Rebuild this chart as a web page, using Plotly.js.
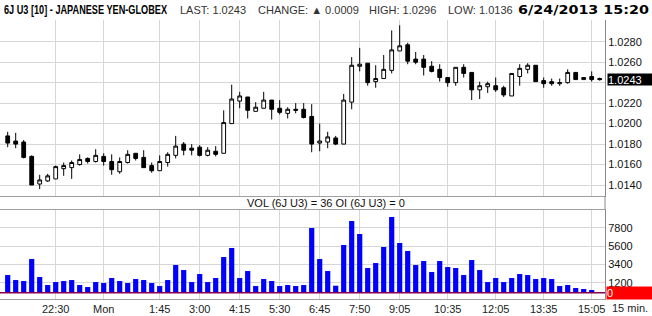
<!DOCTYPE html>
<html>
<head>
<meta charset="utf-8">
<script src="https://cdn.plot.ly/plotly-3.0.1.min.js"></script>
<style>html,body{margin:0;padding:0;background:#fff;}#chart{width:652px;height:316px;}</style>
</head>
<body>
<div id="chart"></div>
<script>
// 15-minute bars, index 0..74 (Sun 21:00 .. Mon 15:20)
const barIndex = Array.from({length: 75}, (_, i) => i);
const openP  = [1.0188,1.0183,1.0182,1.0168,1.0141,1.0144,1.0146,1.0156,1.0157,1.0160,
                1.0166,1.0163,1.0168,1.0163,1.0153,1.0162,1.0171,1.0167,1.0159,1.0154,
                1.0162,1.0169,1.0180,1.0176,1.0177,1.0169,1.0173,1.0171,1.0200,1.0222,
                1.0226,1.0212,1.0215,1.0223,1.0215,1.0210,1.0214,1.0214,1.0207,1.0181,
                1.0182,1.0186,1.0180,1.0221,1.0256,1.0259,1.0241,1.0244,1.0252,1.0271,
                1.0277,1.0263,1.0263,1.0256,1.0253,1.0245,1.0240,1.0255,1.0250,1.0233,
                1.0236,1.0237,1.0235,1.0227,1.0246,1.0253,1.0257,1.0242,1.0241,1.0239,
                1.0240,1.0250,1.0243,1.0246,1.0244];
const highP  = [1.0192,1.0191,1.0184,1.0169,1.0150,1.0151,1.0159,1.0162,1.0164,1.0170,
                1.0167,1.0175,1.0171,1.0170,1.0167,1.0174,1.0171,1.0174,1.0162,1.0169,
                1.0172,1.0188,1.0182,1.0180,1.0179,1.0177,1.0178,1.0213,1.0238,1.0231,
                1.0226,1.0221,1.0231,1.0223,1.0223,1.0216,1.0220,1.0220,1.0219,1.0200,
                1.0192,1.0188,1.0229,1.0265,1.0274,1.0259,1.0257,1.0267,1.0291,1.0296,
                1.0279,1.0270,1.0267,1.0261,1.0258,1.0245,1.0255,1.0258,1.0250,1.0241,
                1.0241,1.0245,1.0237,1.0249,1.0258,1.0259,1.0257,1.0245,1.0244,1.0244,
                1.0253,1.0250,1.0245,1.0251,1.0245];
const lowP   = [1.0177,1.0176,1.0166,1.0140,1.0136,1.0143,1.0146,1.0149,1.0146,1.0159,
                1.0161,1.0162,1.0159,1.0150,1.0151,1.0161,1.0164,1.0157,1.0152,1.0154,
                1.0158,1.0166,1.0169,1.0169,1.0168,1.0168,1.0168,1.0171,1.0200,1.0215,
                1.0205,1.0212,1.0215,1.0204,1.0209,1.0205,1.0210,1.0205,1.0172,1.0173,
                1.0176,1.0179,1.0180,1.0214,1.0251,1.0237,1.0235,1.0244,1.0249,1.0271,
                1.0258,1.0258,1.0247,1.0250,1.0241,1.0236,1.0237,1.0245,1.0223,1.0224,
                1.0230,1.0231,1.0226,1.0227,1.0237,1.0249,1.0241,1.0235,1.0237,1.0237,
                1.0239,1.0243,1.0243,1.0241,1.0242];
const closeP = [1.0181,1.0180,1.0167,1.0140,1.0145,1.0149,1.0158,1.0159,1.0162,1.0165,
                1.0163,1.0169,1.0163,1.0155,1.0163,1.0170,1.0166,1.0157,1.0154,1.0163,
                1.0170,1.0178,1.0174,1.0174,1.0169,1.0174,1.0170,1.0201,1.0224,1.0227,
                1.0213,1.0216,1.0223,1.0214,1.0211,1.0214,1.0213,1.0206,1.0180,1.0183,
                1.0187,1.0180,1.0223,1.0257,1.0258,1.0240,1.0244,1.0253,1.0272,1.0276,
                1.0261,1.0260,1.0255,1.0251,1.0245,1.0240,1.0255,1.0249,1.0233,1.0237,
                1.0239,1.0233,1.0228,1.0249,1.0254,1.0257,1.0241,1.0239,1.0239,1.0240,
                1.0250,1.0243,1.0245,1.0243,1.0243];
const volume = [2120,1520,1400,4040,1880,920,1280,1400,1520,920,
                680,1280,1160,1760,1400,1160,1640,1520,1160,800,
                1520,3320,2720,1280,2240,1280,1760,4280,5360,1760,
                2600,800,1640,1400,800,920,800,920,7760,4040,
                2600,840,5720,8600,7040,2960,3560,5480,9080,5960,
                5000,3320,3800,2480,3800,3080,2960,2120,3920,2720,
                1280,1760,1280,1760,2240,2120,1640,1760,1640,800,
                920,560,440,320,36];
const timeTickIdx = [6,12,19,24,29,34,39,44,49,55,61,67,73];
const timeTickLbl = ['22:30','Mon','1:45','3:00','4:15','5:30','6:45','7:50','9:05','10:35','12:05','13:35','15:05'];
const priceTicks = [1.0140,1.0160,1.0180,1.0200,1.0220,1.0240,1.0260,1.0280];
const priceTickLbl = ['1.0140','1.0160','1.0180','1.0200','1.0220','','1.0260','1.0280'];
const volTicks = [1200,3400,5600,7800];
const volTickLbl = ['1200','3400','5600','7800'];
const lastPrice = 1.0243;
const headerTitle = '6J U3 [10] - JAPANESE YEN-GLOBEX';
const headerLast = 'LAST: 1.0243';
const headerChange = 'CHANGE: \u25B2 0.0009';
const headerHigh = 'HIGH: 1.0296';
const headerLow = 'LOW: 1.0136';
const headerDate = '6/24/2013 15:20';
const volText = 'VOL (6J U3) = 36 OI (6J U3) = 0';

const W = 652, H = 316;
const px = v => v / W;
const py = v => 1 - v / H;
const FONT = 'Liberation Sans, Arial, sans-serif';
const grid = '#d6d6d6';
const xr = [-0.9625, 74.6625];
const xdom = [0, 605 / W];

const traces = [
  {
    type: 'candlestick', x: barIndex, open: openP, high: highP, low: lowP, close: closeP,
    xaxis: 'x', yaxis: 'y',
    increasing: {line: {color: '#000', width: 1}, fillcolor: '#ffffff'},
    decreasing: {line: {color: '#000', width: 1}, fillcolor: '#000000'},
    whiskerwidth: 0, hoverinfo: 'skip', showlegend: false
  },
  {
    type: 'bar', x: barIndex, y: volume, xaxis: 'x2', yaxis: 'y2',
    width: 0.65, marker: {color: '#0000ff', line: {width: 0}},
    hoverinfo: 'skip', showlegend: false
  }
];

const hdr = (text, x, opts) => Object.assign({
  text: text, xref: 'paper', yref: 'paper', x: px(x), y: py(10), xanchor: 'left', yanchor: 'middle',
  align: 'left', showarrow: false, borderpad: 0, font: {family: FONT, size: 11, color: '#333'}
}, opts || {});

// target widths (px) of the condensed header title and the date, as measured on the reference
const titleWidth = 163, dateWidth = 131;

const layout = {
  width: W, height: H,
  margin: {l: 0, r: 0, t: 0, b: 0},
  paper_bgcolor: '#fff', plot_bgcolor: '#fff',
  font: {family: FONT, size: 11, color: '#000'},
  boxgap: 0.33,
  showlegend: false,
  xaxis: {
    domain: xdom, range: xr, anchor: 'y', tickmode: 'array', tickvals: timeTickIdx,
    showticklabels: false, showgrid: true, gridcolor: grid, zeroline: false,
    showline: true, linecolor: '#a0a0a0', ticks: '', rangeslider: {visible: false}, fixedrange: true
  },
  xaxis2: {
    domain: xdom, range: xr, anchor: 'y2', tickmode: 'array', tickvals: timeTickIdx, ticktext: timeTickLbl,
    tickfont: {family: FONT, size: 11, color: '#222'},
    showgrid: true, gridcolor: grid, zeroline: false, showline: true, mirror: true,
    linecolor: '#a0a0a0', ticks: '', fixedrange: true
  },
  yaxis: {
    domain: [1 - 196 / H, 1 - 20 / H], range: [1.01293, 1.03012], side: 'right', anchor: 'x',
    tickmode: 'array', tickvals: priceTicks, ticktext: priceTickLbl,
    tickfont: {family: FONT, size: 11, color: '#111'},
    showgrid: true, gridcolor: grid, zeroline: false, showline: true, linecolor: '#888', ticks: '', fixedrange: true
  },
  yaxis2: {
    domain: [1 - 299 / H, 1 - 209.5 / H], range: [-756, 9984], side: 'right', anchor: 'x2',
    tickmode: 'array', tickvals: volTicks, ticktext: volTickLbl,
    tickfont: {family: FONT, size: 11, color: '#111'},
    showgrid: true, gridcolor: grid, zeroline: false, showline: true, linecolor: '#888', ticks: '', fixedrange: true
  },
  shapes: [
    {type: 'line', xref: 'x2', yref: 'y2', x0: xr[0], x1: xr[1], y0: 0, y1: 0,
     line: {color: '#8a0050', width: 1.5}},
    {type: 'line', xref: 'paper', yref: 'paper', x0: 605 / W, x1: 605 / W, y0: py(196), y1: py(209.5),
     line: {color: '#888', width: 1}}
  ],
  annotations: [
    hdr(headerTitle, 3, {width: titleWidth, font: {family: FONT, size: 13, color: '#000', weight: 'bold'}}),
    hdr(headerLast, 179),
    hdr(headerChange, 257),
    hdr(headerHigh, 368),
    hdr(headerLow, 447),
    hdr(headerDate, 650, {xanchor: 'right', align: 'right', width: dateWidth,
        font: {family: 'DejaVu Sans, Verdana, sans-serif', size: 13, color: '#000', weight: 'bold'}}),
    {text: volText, xref: 'paper', yref: 'paper', x: px(325.5), y: py(203.3), xanchor: 'center', yanchor: 'middle',
     showarrow: false, font: {family: FONT, size: 11, color: '#111'}},
    {text: '15 min.', xref: 'paper', yref: 'paper', x: px(610), y: py(308), xanchor: 'left', yanchor: 'middle',
     showarrow: false, font: {family: FONT, size: 11, color: '#222'}},
    {text: String(lastPrice.toFixed(4)), xref: 'paper', yref: 'y', x: px(606.5), y: lastPrice,
     xanchor: 'left', yanchor: 'middle', showarrow: false, bgcolor: '#000', width: 44.5, height: 11,
     align: 'left', borderpad: 0, font: {family: FONT, size: 11, color: '#fff'}},
    {text: '0', xref: 'paper', yref: 'paper', x: px(606), y: py(293.2),
     xanchor: 'left', yanchor: 'middle', showarrow: false, bgcolor: '#ff0000', width: 45, height: 11.5,
     align: 'left', borderpad: 0, font: {family: FONT, size: 11, color: '#fff'}}
  ]
};

const fitWidths = {0: titleWidth, 5: dateWidth};

Plotly.newPlot('chart', traces, layout, {staticPlot: true, displayModeBar: false}).then(gd => {
  const anns = gd.querySelectorAll('.annotation');
  Object.keys(fitWidths).forEach(k => {
    const g = anns[+k];
    if (!g) return;
    const t = g.querySelector('text.annotation-text');
    if (!t) return;
    t.setAttribute('textLength', fitWidths[k]);
    t.setAttribute('lengthAdjust', 'spacingAndGlyphs');
  });
});
</script>
</body>
</html>
